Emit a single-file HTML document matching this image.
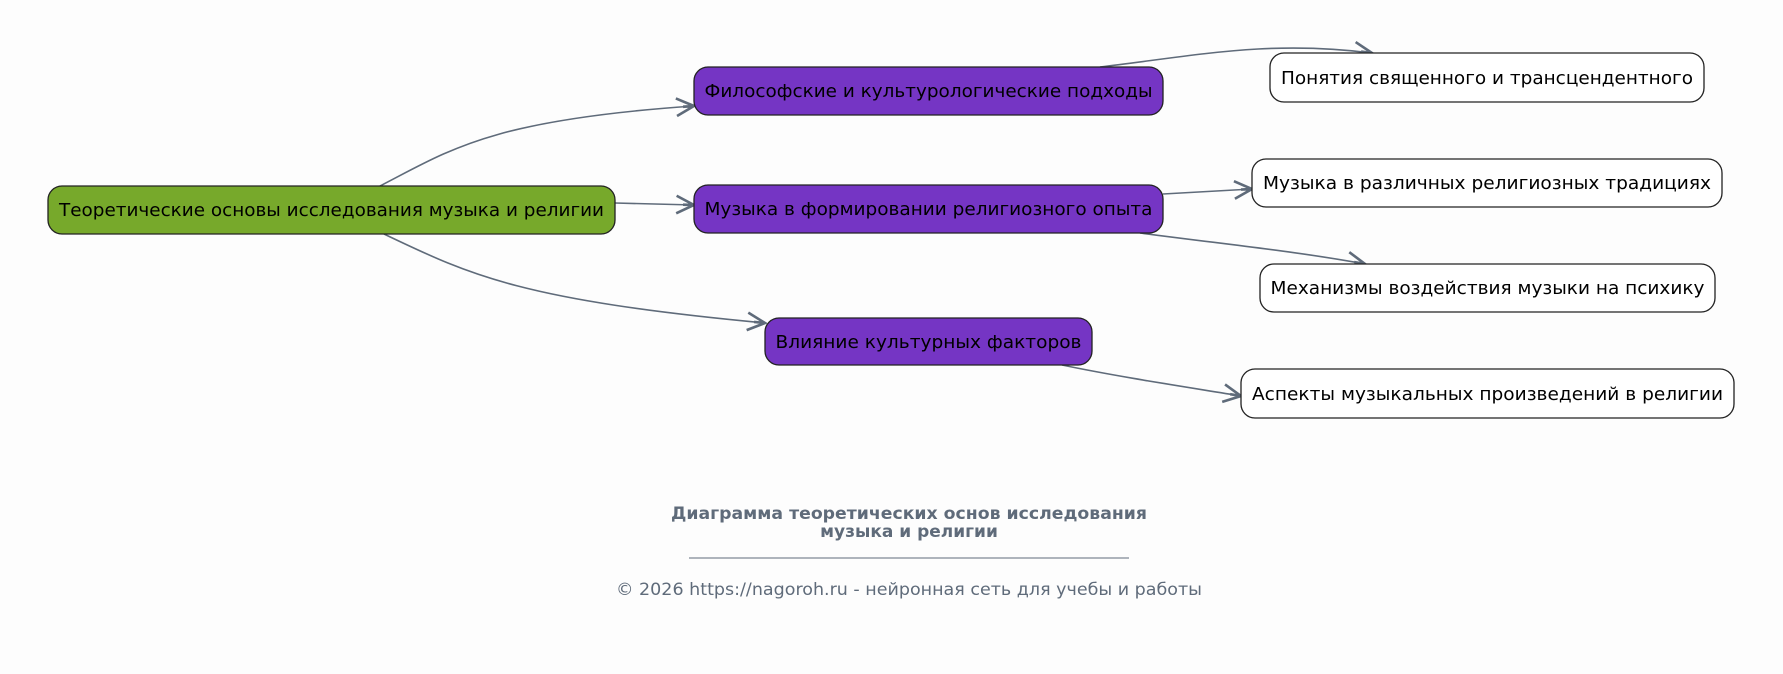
<!DOCTYPE html>
<html><head><meta charset="utf-8"><style>
html,body{margin:0;padding:0;background:#fdfdfd;}
svg{display:block;}
text{font-family:"DejaVu Sans","Liberation Sans",sans-serif;}
</style></head><body>
<svg width="1783" height="674" viewBox="0 0 1783 674" xmlns="http://www.w3.org/2000/svg">
<defs>
<marker id="a" viewBox="0 0 20 20" refX="18" refY="10" markerWidth="22" markerHeight="22" markerUnits="userSpaceOnUse" orient="auto">
<path d="M2,2 L18,10 L2,18 M18,10 L8,10" fill="none" stroke="#5f6b7a" stroke-width="2.4"/>
</marker>
</defs>
<rect width="1783" height="674" fill="#fdfdfd"/>
<g fill="none" stroke="#5f6b7a" stroke-width="1.6" marker-end="url(#a)">
<path d="M380,186 C450,150 490,120 694,106"/>
<path d="M615,203 L694,205"/>
<path d="M384,234 C470,275 520,300 765,323"/>
<path d="M1100,67 C1200,55 1270,40 1372,53"/>
<path d="M1163,194 L1252,189"/>
<path d="M1140,233 C1240,246 1300,252 1365,264"/>
<path d="M1062,365 C1120,377 1180,386 1241,396"/>
</g>
<g stroke="#222" stroke-width="1.3">
<rect x="48" y="186" width="567" height="48" rx="14" fill="#77a92b"/>
<rect x="694" y="67" width="469" height="48" rx="14" fill="#7535c4"/>
<rect x="694" y="185" width="469" height="48" rx="14" fill="#7535c4"/>
<rect x="765" y="318" width="327" height="47" rx="14" fill="#7535c4"/>
<rect x="1270" y="53" width="434" height="49" rx="14" fill="#fff"/>
<rect x="1252" y="159" width="470" height="48" rx="14" fill="#fff"/>
<rect x="1260" y="264" width="455" height="48" rx="14" fill="#fff"/>
<rect x="1241" y="369" width="493" height="49" rx="14" fill="#fff"/>
</g>
<g font-size="18" fill="#000" text-anchor="middle">
<text x="331.5" y="216" textLength="545" lengthAdjust="spacingAndGlyphs">Теоретические основы исследования музыка и религии</text>
<text x="928.5" y="97" textLength="448" lengthAdjust="spacingAndGlyphs">Философские и культурологические подходы</text>
<text x="928.5" y="215" textLength="448" lengthAdjust="spacingAndGlyphs">Музыка в формировании религиозного опыта</text>
<text x="928.5" y="348" textLength="306" lengthAdjust="spacingAndGlyphs">Влияние культурных факторов</text>
<text x="1487" y="84" textLength="412" lengthAdjust="spacingAndGlyphs">Понятия священного и трансцендентного</text>
<text x="1487" y="189" textLength="448" lengthAdjust="spacingAndGlyphs">Музыка в различных религиозных традициях</text>
<text x="1487.5" y="294" textLength="434" lengthAdjust="spacingAndGlyphs">Механизмы воздействия музыки на психику</text>
<text x="1487.5" y="400" textLength="471" lengthAdjust="spacingAndGlyphs">Аспекты музыкальных произведений в религии</text>
</g>
<g fill="#5f6b7a" text-anchor="middle">
<text x="909" y="519" font-size="17" font-weight="bold" textLength="476" lengthAdjust="spacingAndGlyphs">Диаграмма теоретических основ исследования</text>
<text x="909" y="537" font-size="17" font-weight="bold">музыка и религии</text>
<line x1="689" y1="558" x2="1129" y2="558" stroke="#5f6b7a" stroke-width="1"/>
<text x="909" y="595" font-size="17" textLength="586" lengthAdjust="spacingAndGlyphs">© 2026 https://nagoroh.ru - нейронная сеть для учебы и работы</text>
</g>
</svg>
</body></html>
